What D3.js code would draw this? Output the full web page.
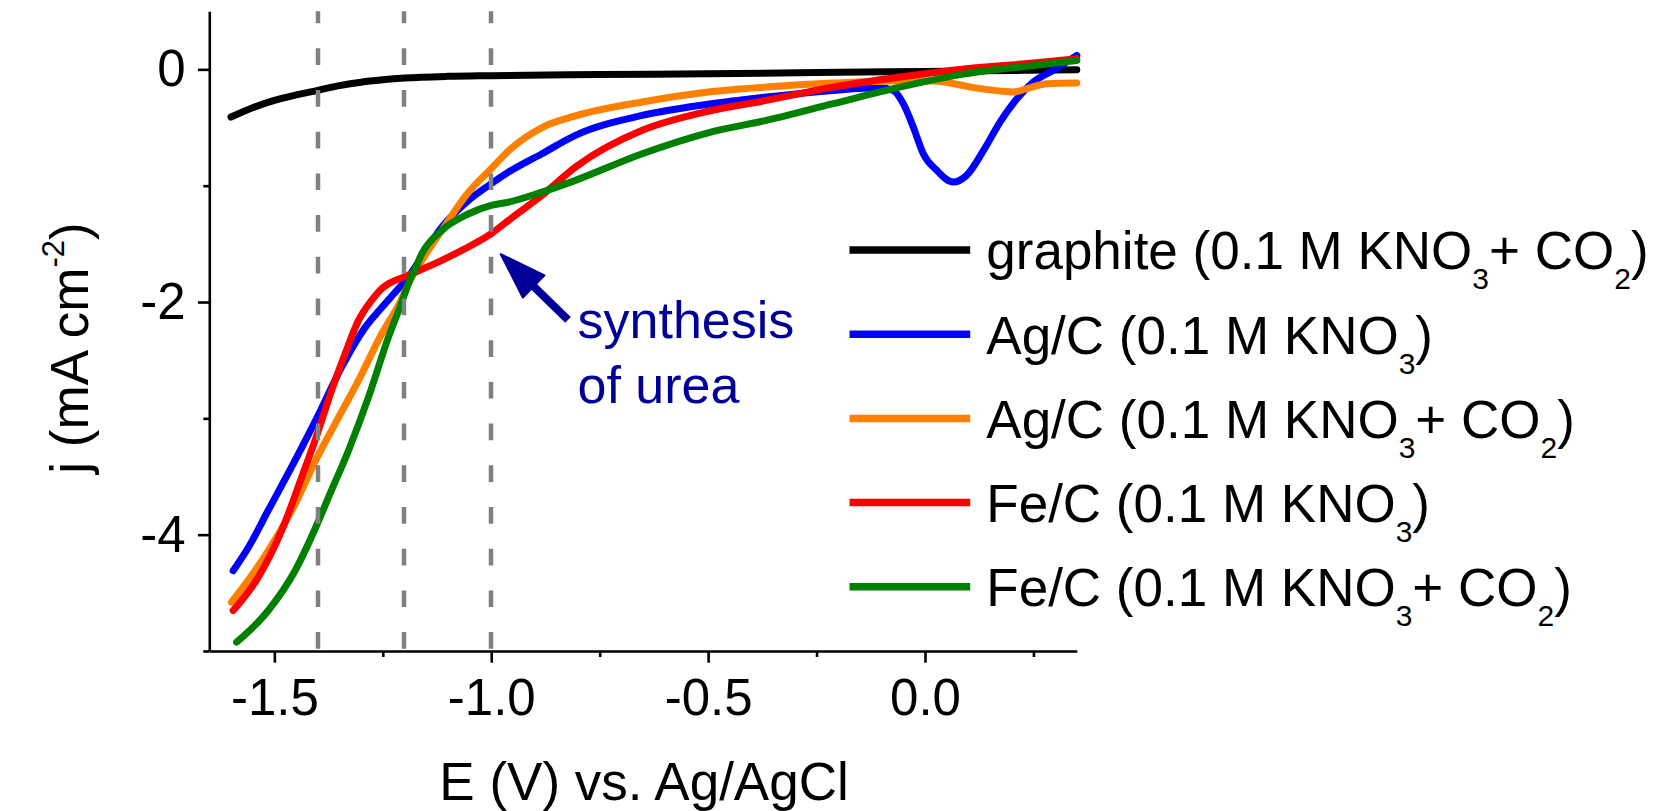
<!DOCTYPE html>
<html><head><meta charset="utf-8">
<script src="https://cdn.jsdelivr.net/npm/d3@7"></script>
<style>
body{margin:0;background:#fff}
svg{display:block}
text{font-family:"Liberation Sans",Arial,Helvetica,sans-serif;fill:#000}
</style>
</head><body>
<svg id="chart" width="1661" height="811"></svg>
<script>
// ---------- data ----------
const xDomain = [-1.65, 0.35];
const yDomain = [-5, 0.5];
const xTicksMajor = [-1.5, -1.0, -0.5, 0.0];
const xTicksMinor = [-1.25, -0.75, -0.25, 0.25];
const yTicksMajor = [0, -2, -4];
const yTicksMinor = [-1, -3, -5];
const markerPotentials = [-1.4, -1.2, -1.0];

const seriesLabels = [
  ["graphite (0.1 M KNO", "3", "+ CO", "2", ")"],
  ["Ag/C (0.1 M KNO", "3", ")"],
  ["Ag/C (0.1 M KNO", "3", "+ CO", "2", ")"],
  ["Fe/C (0.1 M KNO", "3", ")"],
  ["Fe/C (0.1 M KNO", "3", "+ CO", "2", ")"]
];
const seriesColors = ["#000000", "#0000ff", "#ff8000", "#ff0000", "#008000"];

// [E (V), j (mA cm-2)]
const graphite = [[-1.60,-0.41],[-1.55,-0.33],[-1.50,-0.267],[-1.45,-0.22],[-1.40,-0.18],[-1.35,-0.14],[-1.30,-0.11],[-1.25,-0.09],[-1.20,-0.075],[-1.10,-0.06],[-1.00,-0.054],[-0.75,-0.045],[-0.50,-0.037],[-0.25,-0.028],[0.00,-0.018],[0.20,-0.01],[0.35,-0.003]];
const agKNO3 = [[-1.595,-4.31],[-1.56,-4.11],[-1.514,-3.79],[-1.452,-3.36],[-1.401,-2.99],[-1.345,-2.56],[-1.291,-2.22],[-1.253,-2.05],[-1.22,-1.91],[-1.19,-1.78],[-1.16,-1.61],[-1.114,-1.356],[-1.052,-1.126],[-1.00,-0.983],[-0.96,-0.883],[-0.883,-0.725],[-0.806,-0.567],[-0.652,-0.396],[-0.50,-0.30],[-0.366,-0.238],[-0.212,-0.181],[-0.104,-0.158],[-0.073,-0.181],[-0.050,-0.295],[-0.027,-0.496],[-0.004,-0.725],[0.027,-0.868],[0.065,-0.969],[0.096,-0.911],[0.135,-0.697],[0.173,-0.453],[0.212,-0.252],[0.25,-0.109],[0.296,-0.008],[0.35,0.12]];
const agCO2 = [[-1.599,-4.58],[-1.56,-4.39],[-1.514,-4.136],[-1.452,-3.735],[-1.401,-3.334],[-1.36,-3.047],[-1.306,-2.674],[-1.2525,-2.273],[-1.21,-2.0],[-1.185,-1.80],[-1.16,-1.642],[-1.114,-1.384],[-1.052,-1.055],[-1.00,-0.854],[-0.96,-0.70],[-0.883,-0.50],[-0.806,-0.40],[-0.652,-0.281],[-0.50,-0.195],[-0.366,-0.152],[-0.212,-0.118],[-0.058,-0.10],[0.019,-0.10],[0.066,-0.123],[0.112,-0.157],[0.17,-0.185],[0.204,-0.195],[0.235,-0.166],[0.281,-0.123],[0.35,-0.118]];
const feKNO3 = [[-1.595,-4.652],[-1.537,-4.365],[-1.483,-3.964],[-1.437,-3.506],[-1.401,-3.133],[-1.368,-2.76],[-1.337,-2.445],[-1.306,-2.158],[-1.276,-1.986],[-1.254,-1.89],[-1.237,-1.843],[-1.205,-1.79],[-1.175,-1.743],[-1.114,-1.642],[-1.068,-1.556],[-1.00,-1.413],[-0.96,-1.298],[-0.883,-1.083],[-0.806,-0.84],[-0.652,-0.524],[-0.50,-0.36],[-0.366,-0.267],[-0.212,-0.153],[-0.058,-0.066],[0.096,0.006],[0.25,0.054],[0.35,0.092]];
const feCO2 = [[-1.587,-4.924],[-1.514,-4.652],[-1.452,-4.308],[-1.401,-3.906],[-1.375,-3.677],[-1.329,-3.276],[-1.283,-2.818],[-1.237,-2.302],[-1.206,-2.0],[-1.191,-1.843],[-1.175,-1.71],[-1.16,-1.585],[-1.114,-1.384],[-1.052,-1.241],[-1.00,-1.169],[-0.96,-1.141],[-0.883,-1.055],[-0.806,-0.954],[-0.652,-0.725],[-0.50,-0.545],[-0.366,-0.438],[-0.212,-0.295],[-0.058,-0.153],[0.096,-0.037],[0.25,0.034],[0.35,0.077]];
const seriesData = [graphite, agKNO3, agCO2, feKNO3, feCO2];

// annotation in data units
const arrowTip = [-0.978, -1.589];
const arrowTail = [-0.823, -2.154];
const noteLines = ["synthesis", "of urea"];
const notePos = [[-0.801, -2.311], [-0.801, -2.87]];

// ---------- drawing ----------
const svg = d3.select("#chart");
const x = d3.scaleLinear().domain(xDomain).range([209.3, 1076.8]);
const y = d3.scaleLinear().domain(yDomain).range([651, 11.2]);

const FONT_TICK = 51, FONT_TITLE = 53;

// curves
const line = d3.line().x(d => x(d[0])).y(d => y(d[1])).curve(d3.curveMonotoneX);
const gCurves = svg.append("g");
seriesData.forEach((s, i) => {
  gCurves.append("path").attr("d", line(s))
    .attr("fill", "none").attr("stroke", seriesColors[i])
    .attr("stroke-width", 7).attr("stroke-linejoin", "round").attr("stroke-linecap", "round");
});

// dashed marker lines
svg.append("g").selectAll("line").data(markerPotentials).join("line")
  .attr("x1", d => Math.round(x(d))).attr("x2", d => Math.round(x(d)))
  .attr("y1", y(yDomain[1])).attr("y2", y(yDomain[0]))
  .attr("stroke", "#808080").attr("stroke-width", 4.5)
  .attr("stroke-dasharray", "16.7 25").attr("stroke-dashoffset", 4.6);

// axes
function styleAxis(g) {
  g.selectAll("path.domain").attr("stroke", "#000").attr("stroke-width", 2.6);
  g.selectAll(".tick line").attr("stroke", "#000").attr("stroke-width", 2.6);
  g.selectAll(".tick text").attr("fill", "#000")
    .style("font-family", '"Liberation Sans", Arial, sans-serif');
}
const xAxisG = svg.append("g").attr("transform", `translate(0,${y(yDomain[0])})`)
  .call(d3.axisBottom(x).tickValues(xTicksMajor).tickSize(11.7).tickSizeOuter(0).tickPadding(16)
    .tickFormat(d => d.toFixed(1)));
xAxisG.attr("font-size", FONT_TICK);
styleAxis(xAxisG);
const xMinorG = svg.append("g").attr("transform", `translate(0,${y(yDomain[0])})`)
  .call(d3.axisBottom(x).tickValues(xTicksMinor).tickSize(6).tickSizeOuter(0).tickFormat(""));
xMinorG.select("path.domain").remove();
styleAxis(xMinorG);

const yAxisG = svg.append("g").attr("transform", `translate(${x(xDomain[0])},0)`)
  .call(d3.axisLeft(y).tickValues(yTicksMajor).tickSize(11.4).tickSizeOuter(0).tickPadding(12.2)
    .tickFormat(d => String(d)));
yAxisG.attr("font-size", FONT_TICK);
styleAxis(yAxisG);
const yMinorG = svg.append("g").attr("transform", `translate(${x(xDomain[0])},0)`)
  .call(d3.axisLeft(y).tickValues(yTicksMinor).tickSize(6).tickSizeOuter(0).tickFormat(""));
yMinorG.select("path.domain").remove();
styleAxis(yMinorG);

// axis titles
svg.append("text").attr("x", (x.range()[0] + x.range()[1]) / 2 + 1).attr("y", 800)
  .attr("text-anchor", "middle").attr("font-size", FONT_TITLE).text("E (V) vs. Ag/AgCl");

const yt = svg.append("text").attr("transform", "translate(87.5,348) rotate(-90)")
  .attr("text-anchor", "middle").attr("font-size", FONT_TITLE);
yt.append("tspan").text("j (mA cm");
yt.append("tspan").attr("font-size", 31).attr("dy", -24).text("-2");
yt.append("tspan").attr("dy", 24).text(")");

// legend
const legX1 = 849.5, legX2 = 970.2, legTextX = 986.3, legY0 = 250, legStep = 84.2;
const gLeg = svg.append("g");
seriesLabels.forEach((parts, i) => {
  const yy = legY0 + i * legStep;
  gLeg.append("line").attr("x1", legX1).attr("x2", legX2).attr("y1", yy).attr("y2", yy)
    .attr("stroke", seriesColors[i]).attr("stroke-width", 7.5);
  const t = gLeg.append("text").attr("x", legTextX).attr("y", yy + 19.3).attr("font-size", FONT_TITLE);
  parts.forEach((p, k) => {
    const sub = k % 2 === 1;
    const ts = t.append("tspan").text(p);
    if (sub) ts.attr("font-size", 30).attr("dy", 20);
    else if (k > 0) ts.attr("dy", -20);
  });
});

// annotation
const navy = "#000099";
const tip = [x(arrowTip[0]), y(arrowTip[1])];
const tail = [x(arrowTail[0]), y(arrowTail[1])];
const dx = tip[0] - tail[0], dy = tip[1] - tail[1];
const len = Math.hypot(dx, dy), ux = dx / len, uy = dy / len;
const headLen = 46, headW = 31;
const base = [tip[0] - ux * headLen, tip[1] - uy * headLen];
svg.append("line").attr("x1", tail[0]).attr("y1", tail[1])
  .attr("x2", base[0] + ux * 4).attr("y2", base[1] + uy * 4)
  .attr("stroke", navy).attr("stroke-width", 8);
svg.append("path").attr("fill", navy).attr("stroke", navy).attr("stroke-width", 2).attr("stroke-linejoin", "round")
  .attr("d", `M${tip[0]},${tip[1]} L${base[0] - uy * headW / 2},${base[1] + ux * headW / 2} L${base[0] + uy * headW / 2},${base[1] - ux * headW / 2} Z`);
noteLines.forEach((s, i) => {
  svg.append("text").attr("x", x(notePos[i][0])).attr("y", y(notePos[i][1]))
    .attr("font-size", 52).style("fill", navy).text(s);
});
</script>
</body></html>
